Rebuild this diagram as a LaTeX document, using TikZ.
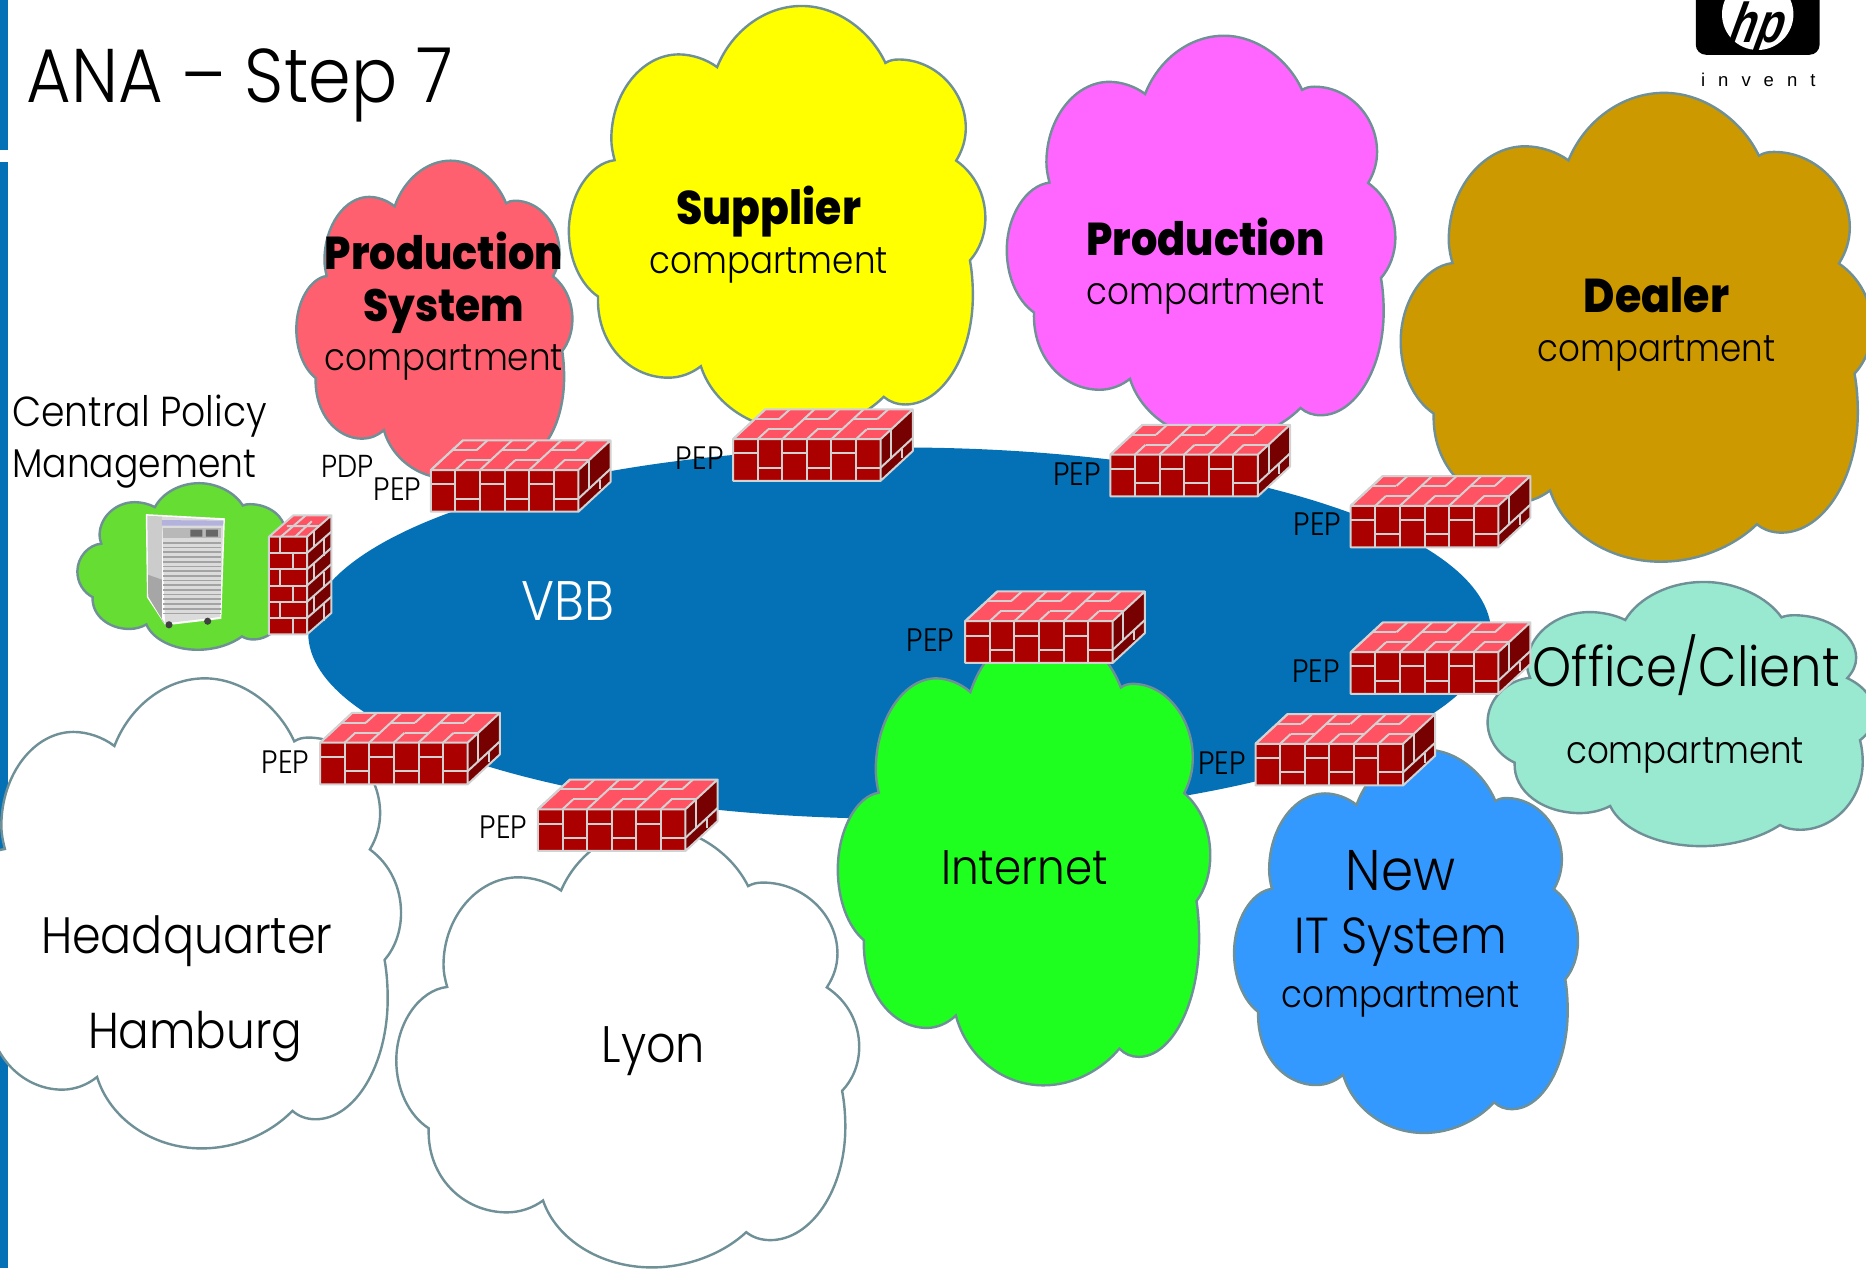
\documentclass[tikz,border=0pt]{standalone}
\usepackage{graphicx}
\usepackage{fontspec}
\setmainfont{Poppins}[UprightFont=* Light, BoldFont=* ExtraBold, FakeStretch=0.9]
\newfontfamily\logofont{Liberation Sans}
\definecolor{bbblue}{HTML}{0470B5}
\definecolor{cedge}{HTML}{6E9096}
\definecolor{cred}{HTML}{FF6070}
\definecolor{cyel}{HTML}{FFFF00}
\definecolor{cmag}{HTML}{FF66FF}
\definecolor{cgold}{HTML}{CC9900}
\definecolor{cmint}{HTML}{99E8D0}
\definecolor{cinet}{HTML}{1FFF1F}
\definecolor{cblue}{HTML}{3399FF}
\definecolor{ccpm}{HTML}{66DD33}
\definecolor{fwtop}{HTML}{FF5363}
\definecolor{fwfront}{HTML}{AA0000}
\definecolor{fwside}{HTML}{770000}
\definecolor{mortarc}{HTML}{D2D2D2}
\tikzset{
  cloudbody/.style={draw=cedge,line width=1.2pt,line join=miter,fill=#1},
  mortar/.style={draw=mortarc,line width=1pt},
  lbl/.style={inner sep=0pt,anchor=center,text=black,yshift=-2.4pt},
  lblleft/.style={inner sep=0pt,anchor=west,text=black,yshift=-2.4pt},
}
% cloud outline in the unit box, scaled into x y w h (display units)
\newcommand\drawcloud[5]{%
\begin{scope}[shift={(#2,#3)},x={#4*0.595pt},y={-#5*0.595pt}]
\path[cloudbody=#1] (.356,.144)
 .. controls (.39,.06) and (.47,0) .. (.559,0)
 .. controls (.645,0) and (.725,.06) .. (.760,.134)
 .. controls (.77,.128) and (.78,.126) .. (.792,.126)
 .. controls (.88,.126) and (.953,.20) .. (.953,.287)
 .. controls (.953,.315) and (.945,.34) .. (.930,.364)
 .. controls (.975,.395) and (1,.445) .. (1,.499)
 .. controls (1,.54) and (.985,.575) .. (.963,.599)
 .. controls (.968,.625) and (.970,.655) .. (.970,.681)
 .. controls (.970,.825) and (.895,.938) .. (.808,.938)
 .. controls (.788,.938) and (.77,.932) .. (.756,.920)
 .. controls (.71,.965) and (.635,1) .. (.552,1)
 .. controls (.44,1) and (.345,.935) .. (.317,.848)
 .. controls (.295,.865) and (.267,.875) .. (.239,.875)
 .. controls (.145,.875) and (.066,.795) .. (.070,.684)
 .. controls (.027,.655) and (0,.595) .. (0,.530)
 .. controls (0,.445) and (.05,.37) .. (.110,.363)
 .. controls (.105,.345) and (.102,.33) .. (.102,.313)
 .. controls (.102,.205) and (.175,.114) .. (.264,.114)
 .. controls (.295,.114) and (.33,.125) .. cycle;
\end{scope}}
\newcommand\fit[2]{\resizebox{\dimexpr 0.595pt*#1\relax}{!}{\strut #2}}
\newcommand\fwh[2]{%
\begin{scope}[shift={(#1,#2)}]
  \fill[fwtop] (0,25)--(124,25)--(151,0)--(27,0)--cycle;
  \fill[fwfront] (0,25) rectangle (124,60);
  \fill[fwside] (124,25)--(151,0)--(151,35)--(124,60)--cycle;
  \foreach \i in {0,2,4}{
    \draw[mortar] ({\i*124/6},37)--({(\i+1)*124/6},37);
    \draw[mortar] ({(\i+1)*124/6},49)--({(\i+2)*124/6},49);
    % top bricks
    \draw[mortar] ({(\i+1)*124/6+8.9},16.75)--({(\i+2)*124/6+8.9},16.75);
    \draw[mortar] ({\i*124/6+17.8},8.25)--({(\i+1)*124/6+17.8},8.25);
    \draw[mortar] ({(\i+1)*124/6},25)--({(\i+1)*124/6+8.9},16.75);
    \draw[mortar] ({(\i+1)*124/6+17.8},8.25)--({(\i+1)*124/6+27},0);
    \draw[mortar] ({\i*124/6},25)--({\i*124/6+27},0);
  }
  \foreach \i in {1,...,5}{\draw[mortar] ({\i*124/6},25)--({\i*124/6},60);}
  % side bricks
  \draw[mortar] (124,49)--(151,24);
  \draw[mortar] (133,17)--(133,41);
  \draw[mortar] (142,33)--(142,41);
  \draw[mortar,line join=round] (0,25)--(124,25)--(151,0)--(27,0)--cycle (0,25)--(0,60)--(124,60)--(151,35)--(151,0) (124,25)--(124,60);
\end{scope}}
\newcommand\fwv[2]{%
\begin{scope}[shift={(#1,#2)}]
  \fill[fwtop] (0,18)--(32,18)--(52.5,0)--(20.5,0)--cycle;
  \fill[fwfront] (0,18) rectangle (32,100);
  \fill[fwside] (32,18)--(52.5,0)--(52.5,82)--(32,100)--cycle;
  \foreach \r in {1,...,5}{
    \draw[mortar] (0,{18+\r*13.67})--(32,{18+\r*13.67});
    \draw[mortar] (32,{18+\r*13.67})--(52.5,{\r*13.67});
  }
  \foreach \r in {0,2,4}{
    \draw[mortar] (9.6,{18+\r*13.67})--(9.6,{18+(\r+1)*13.67});
    \draw[mortar] (20,{18+(\r+1)*13.67})--(20,{18+(\r+2)*13.67});
    \draw[mortar] (38,{12.7+\r*13.67})--(38,{12.7+(\r+1)*13.67});
    \draw[mortar] (46,{6.5+(\r+1)*13.67})--(46,{6.5+(\r+2)*13.67});
  }
  \draw[mortar] (10,18)--(31,0) (15,9)--(42,9) (22,18)--(36,5);
  \draw[mortar,line join=round] (0,18)--(32,18)--(52.5,0)--(20.5,0)--cycle (0,18)--(0,100)--(32,100)--(52.5,82)--(52.5,0) (32,18)--(32,100);
\end{scope}}
\begin{document}
\begin{tikzpicture}[x=0.595pt,y=-0.595pt]
\path[use as bounding box] (0,0) rectangle (1568,1065.5);
\clip (0,0) rectangle (1568,1065.5);
\fill[white] (0,0) rectangle (1568,1065.5);
% side bar
\fill[bbblue] (0,0) rectangle (7,126);
\fill[bbblue] (0,136) rectangle (7,1065.5);
% backbone
\fill[bbblue] (756,532) ellipse [x radius=497,y radius=156];
% clouds
\drawcloud{cred}{249}{135}{232}{267}
\drawcloud{cyel}{478}{5}{350}{357}
\drawcloud{cmag}{846}{30}{326.5}{340}
\drawcloud{cgold}{1177}{78}{396}{394}
\drawcloud{cblue}{1037}{630}{289}{322}
\drawcloud{cmint}{1250}{489}{325}{222}
\drawcloud{cinet}{704}{526}{313}{386}
\drawcloud{white}{-37}{570}{374}{395}
\drawcloud{white}{333}{695}{389}{370}
\drawcloud{ccpm}{65}{406}{183}{140}
% server
\begin{scope}
  \fill[white] (122.5,432)--(189,435.5)--(186,520)--(139,525.5)--(123.5,502)--cycle;
  \fill[black!20] (123.8,433.3)--(136,434)--(136,522)--(138.6,523.8)--(124.6,501.3)--cycle;
  \fill[black!14] (136,434)--(187.7,437)--(184.9,518.4)--(138.6,523.8)--cycle;
  \fill[black!45!blue!30!white] (136,437)--(187.7,437.5)--(187.5,441.7)--(136,441.7)--cycle;
  \fill[black!28] (137,444) rectangle (186,452);
  \fill[black!60] (160,445) rectangle (170,451) (173,445) rectangle (183,451);
  \fill[white!65!black] (124.4,483)--(136,487)--(136,520)--(124.6,501.3)--cycle;
  \foreach \k in {0,...,15}{\fill[black!36] (137,{455.5+\k*3.95}) rectangle (186,{456.9+\k*3.95});}
  \fill[black!75] (142,525) circle [radius=3] (174.5,522) circle [radius=3];
\end{scope}
% firewalls
\fwv{226}{433}
\fwh{362}{370}
\fwh{616}{344}
\fwh{933}{357}
\fwh{1135}{400}
\fwh{811}{497}
\fwh{1135}{523}
\fwh{1055}{600}
\fwh{269}{599}
\fwh{452}{655}
% logo
\fill[black,rounded corners=5pt] (1425,-20) rectangle (1529,46);
\fill[white] (1477,12) circle [radius=30];
\node[inner sep=0pt,xslant=0.22,transform shape] (logohp) at (1477.5,23.5) {\resizebox*{\dimexpr 0.595pt*44\relax}{\dimexpr 0.595pt*44\relax}{\logofont\bfseries\itshape hp}};
\node[lbl,yshift=2.4pt] (logoinvent) at (1477.5,67) {\fit{96}{\logofont\addfontfeature{LetterSpace=70}\fontsize{7pt}{8pt}\selectfont invent}};
% text
\node[lblleft] (title) at (22,67) {\fit{358}{ANA – Step 7}};
\node[lbl] (ps1) at (373,213) {\fit{200}{\bfseries Production}};
\node[lbl] (ps2) at (373,257) {\fit{135}{\bfseries System}};
\node[lbl] (ps3) at (373,300) {\fit{200}{compartment}};
\node[lbl] (sup1) at (646,175) {\fit{155}{\bfseries Supplier}};
\node[lbl] (sup2) at (646,218) {\fit{200}{compartment}};
\node[lbl] (pr1) at (1013,201) {\fit{200}{\bfseries Production}};
\node[lbl] (pr2) at (1013,244) {\fit{200}{compartment}};
\node[lbl] (de1) at (1392,249) {\fit{122}{\bfseries Dealer}};
\node[lbl] (de2) at (1392,292) {\fit{200}{compartment}};
\node[lblleft] (cp1) at (10,346) {\fit{214}{Central Policy}};
\node[lblleft] (cp2) at (10,389) {\fit{205}{Management}};
\node[lbl] (pdp) at (292,391) {\fit{44}{PDP}};
\node[lbl] (pep1) at (334,410) {\fit{40}{PEP}};
\node[lbl] (pep2) at (588,384) {\fit{40}{PEP}};
\node[lbl] (pep3) at (905,397) {\fit{40}{PEP}};
\node[lbl] (pep4) at (1107,439) {\fit{40}{PEP}};
\node[lbl] (pep5) at (782,537) {\fit{40}{PEP}};
\node[lbl] (pep6) at (1106,563) {\fit{40}{PEP}};
\node[lbl] (pep7) at (1027,640) {\fit{40}{PEP}};
\node[lbl] (pep8) at (240,639) {\fit{40}{PEP}};
\node[lbl] (pep9) at (423,694) {\fit{40}{PEP}};
\node[lbl,text=white] (vbb) at (477,506) {\fit{78}{VBB}};
\node[lbl] (of1) at (1417,559) {\fit{258}{Office/Client}};
\node[lbl] (of2) at (1416,630) {\fit{200}{compartment}};
\node[lbl] (inet) at (861,729) {\fit{140}{Internet}};
\node[lbl] (nw1) at (1177,733) {\fit{92}{New}};
\node[lbl] (nw2) at (1177,787) {\fit{178}{IT System}};
\node[lbl] (nw3) at (1177,835) {\fit{200}{compartment}};
\node[lbl] (hq1) at (157,787) {\fit{245}{Headquarter}};
\node[lbl] (hq2) at (164,867) {\fit{180}{Hamburg}};
\node[lbl] (ly) at (549,878) {\fit{87}{Lyon}};
\end{tikzpicture}
\end{document}
